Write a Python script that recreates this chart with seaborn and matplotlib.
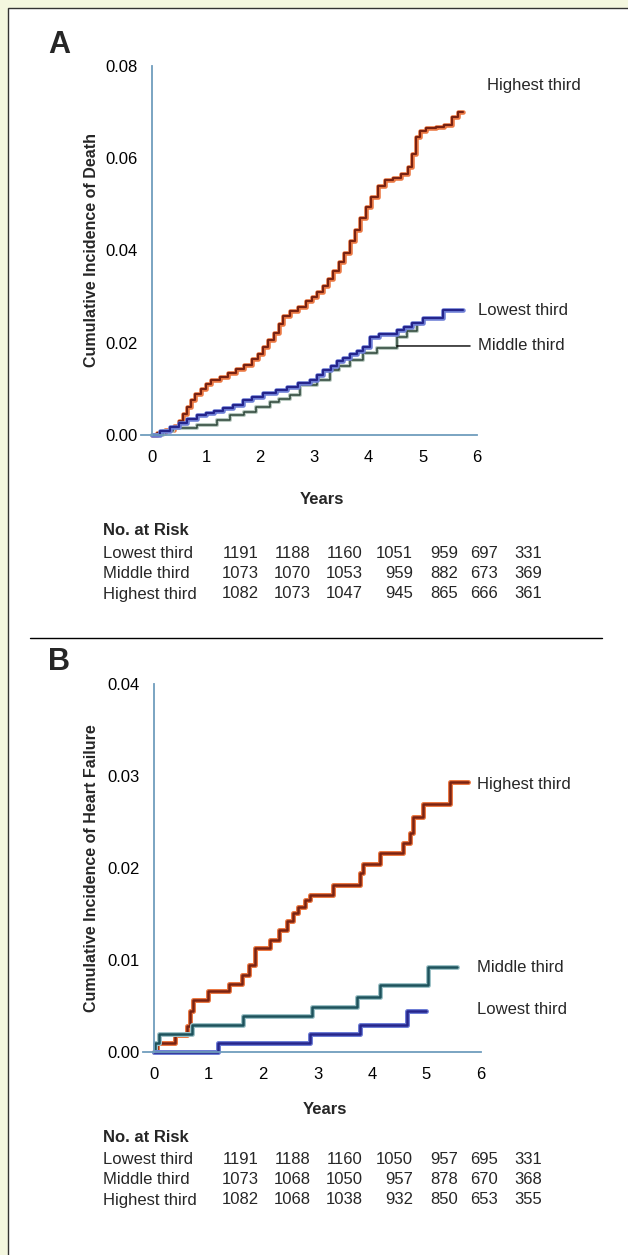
import matplotlib
matplotlib.use("Agg")
import matplotlib.pyplot as plt
import matplotlib.patheffects as pe
from matplotlib.patches import Rectangle
from matplotlib.lines import Line2D
import seaborn as sns

# Panel A: cumulative incidence of death (step curves, time in years)
death_high_t = [0, 0.1, 0.25, 0.4, 0.5, 0.57, 0.65, 0.72, 0.8, 0.9, 1.0, 1.1, 1.25, 1.4, 1.55, 1.7,
                1.85, 1.95, 2.05, 2.15, 2.25, 2.35, 2.42, 2.55, 2.7, 2.85, 2.95, 3.05, 3.15, 3.25,
                3.35, 3.45, 3.55, 3.65, 3.75, 3.85, 3.95, 4.05, 4.17, 4.3, 4.45, 4.6, 4.72, 4.8,
                4.87, 4.95, 5.05, 5.25, 5.4, 5.53, 5.65, 5.75]
death_high_v = [0, 0.0005, 0.001, 0.002, 0.003, 0.0045, 0.006, 0.0075, 0.0088, 0.010, 0.011, 0.0119,
                0.0126, 0.0135, 0.0143, 0.0152, 0.0165, 0.0175, 0.019, 0.0205, 0.0222, 0.024, 0.0258,
                0.0268, 0.0278, 0.029, 0.030, 0.031, 0.0322, 0.0338, 0.0355, 0.0375, 0.0395, 0.042,
                0.0445, 0.047, 0.0495, 0.0515, 0.054, 0.0552, 0.0558, 0.0566, 0.058, 0.061, 0.0645,
                0.066, 0.0666, 0.0668, 0.0672, 0.069, 0.070, 0.070]
death_low_t = [0, 0.15, 0.33, 0.5, 0.65, 0.83, 1.0, 1.15, 1.31, 1.5, 1.68, 1.85, 2.05, 2.3, 2.49, 2.7,
               2.92, 3.05, 3.16, 3.3, 3.42, 3.52, 3.65, 3.78, 3.89, 4.02, 4.2, 4.52, 4.65, 4.8, 5.0,
               5.37, 5.74]
death_low_v = [0, 0.0008, 0.0017, 0.0025, 0.0035, 0.0043, 0.0048, 0.0053, 0.0058, 0.0066, 0.0076,
               0.0083, 0.0091, 0.0097, 0.0104, 0.0112, 0.0119, 0.013, 0.014, 0.015, 0.016, 0.0167,
               0.0175, 0.0183, 0.0191, 0.0213, 0.022, 0.0228, 0.0235, 0.0243, 0.0254, 0.0271, 0.0271]
death_mid_t = [0, 0.2, 0.39, 0.83, 1.2, 1.44, 1.7, 1.93, 2.18, 2.35, 2.55, 2.73, 3.04, 3.28, 3.45,
               3.65, 3.89, 4.15, 4.52, 4.7, 4.9, 4.95]
death_mid_v = [0, 0.0008, 0.0015, 0.0022, 0.0033, 0.0043, 0.005, 0.0061, 0.0072, 0.0078, 0.0087,
               0.0108, 0.0119, 0.014, 0.015, 0.0163, 0.0178, 0.0189, 0.0213, 0.0225, 0.024, 0.024]

# Panel B: cumulative incidence of heart failure
hf_high_t = [0, 0.05, 0.39, 0.6, 0.66, 0.72, 1.0, 1.37, 1.61, 1.75, 1.85, 2.13, 2.3, 2.45, 2.55,
             2.65, 2.78, 2.86, 3.28, 3.78, 3.84, 4.15, 4.57, 4.7, 4.75, 4.94, 5.43, 5.76]
hf_high_v = [0, 0.001, 0.0019, 0.0028, 0.0045, 0.0057, 0.0066, 0.0074, 0.0084, 0.0095, 0.0113,
             0.0122, 0.0133, 0.0142, 0.0151, 0.0158, 0.0165, 0.0171, 0.0182, 0.0195, 0.0204,
             0.0216, 0.0227, 0.0238, 0.0255, 0.027, 0.0293, 0.0293]
hf_mid_t = [0, 0.02, 0.1, 0.7, 1.64, 2.9, 3.72, 4.15, 5.03, 5.56]
hf_mid_v = [0, 0.001, 0.002, 0.0029, 0.0039, 0.0049, 0.006, 0.0073, 0.0092, 0.0092]
hf_low_t = [0, 1.17, 2.86, 3.78, 4.64, 5.0]
hf_low_v = [0, 0.001, 0.002, 0.0029, 0.0045, 0.0045]

groups = ["Lowest third", "Middle third", "Highest third"]
risk_death = [[1191, 1188, 1160, 1051, 959, 697, 331],
              [1073, 1070, 1053, 959, 882, 673, 369],
              [1082, 1073, 1047, 945, 865, 666, 361]]
risk_hf = [[1191, 1188, 1160, 1050, 957, 695, 331],
           [1073, 1068, 1050, 957, 878, 670, 368],
           [1082, 1068, 1038, 932, 850, 653, 355]]

W, H = 628, 1255
axis_color = "#6f9dbd"

sns.set_style("white")
plt.rcParams["font.family"] = ["Liberation Sans", "DejaVu Sans"]

fig = plt.figure(figsize=(W / 100, H / 100), dpi=100)
fig.patch.set_facecolor("#f4f7df")
fig.patches.append(Rectangle((8 / W, -0.01), 1.0, 1 - 8 / H + 0.01, transform=fig.transFigure,
                             facecolor="white", edgecolor="#333333", lw=1.0, zorder=-1))


def fx(px):
    return px / W


def fy(py):
    return 1 - py / H


def draw_curve(ax, t, v, core, halo, lw):
    sns.lineplot(x=t, y=v, ax=ax, color=core, lw=lw, drawstyle="steps-post", estimator=None,
                 sort=False, clip_on=False,
                 path_effects=[pe.Stroke(linewidth=lw + 1.8, foreground=halo), pe.Normal()])


def setup_axes(ax, ymax, yticks):
    ax.set_facecolor("none")
    ax.set_xlim(-0.2, 6.0)
    ax.set_ylim(0, ymax)
    ax.spines["left"].set_position(("data", 0))
    ax.spines[["top", "right"]].set_visible(False)
    for s in ["left", "bottom"]:
        ax.spines[s].set_color(axis_color)
        ax.spines[s].set_linewidth(1.3)
    ax.set_xticks(range(7))
    ax.set_yticks(yticks)
    ax.set_yticklabels([f"{y:.2f}" for y in yticks])
    ax.tick_params(axis="both", direction="out", length=3, width=1.2, color=axis_color,
                   labelsize=12, labelcolor="black")
    ax.tick_params(axis="x", pad=8)
    ax.tick_params(axis="y", pad=7)
    ax.set_xlabel("")
    ax.set_ylabel("")


def risk_table(title_y, rows_y, risk):
    fig.text(fx(103), fy(title_y), "No. at Risk", fontsize=12, fontweight="bold", va="center")
    col_right = [259, 311, 363, 413, 458, 498, 542]
    for g, ry, vals in zip(groups, rows_y, risk):
        fig.text(fx(103), fy(ry), g, fontsize=12, va="center")
        for cx, n in zip(col_right, vals):
            fig.text(fx(cx), fy(ry), str(n), fontsize=12, va="center", ha="right")


# ---- Panel A ----
axA = fig.add_axes([fx(141), fy(435), fx(336), 369 / H])
draw_curve(axA, death_high_t, death_high_v, "#7a2211", "#ec7a45", 1.5)
draw_curve(axA, death_mid_t, death_mid_v, "#2c4437", "#b9c9c0", 1.1)
draw_curve(axA, death_low_t, death_low_v, "#25258c", "#6f7fd6", 1.5)
setup_axes(axA, 0.08, [0.0, 0.02, 0.04, 0.06, 0.08])
axA.text(6.18, 0.0757, "Highest third", fontsize=12, va="center", clip_on=False)
axA.text(6.01, 0.0271, "Lowest third", fontsize=12, va="center", clip_on=False)
axA.annotate("Middle third", xy=(4.52, 0.0193), xytext=(6.01, 0.0193), fontsize=12,
             va="center", annotation_clip=False,
             arrowprops=dict(arrowstyle="-", color="black", lw=1.0, shrinkA=3, shrinkB=0))

fig.text(fx(48), fy(45), "A", fontsize=22, fontweight="bold", va="center")
fig.text(fx(92), fy(250), "Cumulative Incidence of Death", fontsize=11.5, fontweight="bold",
         rotation=90, va="center", ha="center")
fig.text(fx(322), fy(500), "Years", fontsize=12, fontweight="bold", va="center", ha="center")
risk_table(530, [553, 574, 594], risk_death)

fig.add_artist(Line2D([fx(30), fx(602)], [fy(638), fy(638)], color="black", lw=1.0))

# ---- Panel B ----
axB = fig.add_axes([fx(143), fy(1052), fx(338), 368 / H])
draw_curve(axB, hf_high_t, hf_high_v, "#7a2211", "#ec7a45", 1.8)
draw_curve(axB, hf_mid_t, hf_mid_v, "#1c525c", "#9fc3c8", 1.8)
draw_curve(axB, hf_low_t, hf_low_v, "#25258c", "#6f7fd6", 1.8)
setup_axes(axB, 0.04, [0.0, 0.01, 0.02, 0.03, 0.04])
axB.text(5.93, 0.0291, "Highest third", fontsize=12, va="center", clip_on=False)
axB.text(5.93, 0.0092, "Middle third", fontsize=12, va="center", clip_on=False)
axB.text(5.93, 0.0046, "Lowest third", fontsize=12, va="center", clip_on=False)

fig.text(fx(48), fy(662), "B", fontsize=22, fontweight="bold", va="center")
fig.text(fx(92), fy(868), "Cumulative Incidence of Heart Failure", fontsize=11.5,
         fontweight="bold", rotation=90, va="center", ha="center")
fig.text(fx(325), fy(1110), "Years", fontsize=12, fontweight="bold", va="center", ha="center")
risk_table(1138, [1160, 1180, 1200], risk_hf)

fig.savefig("out.png", dpi=100, facecolor=fig.get_facecolor())
